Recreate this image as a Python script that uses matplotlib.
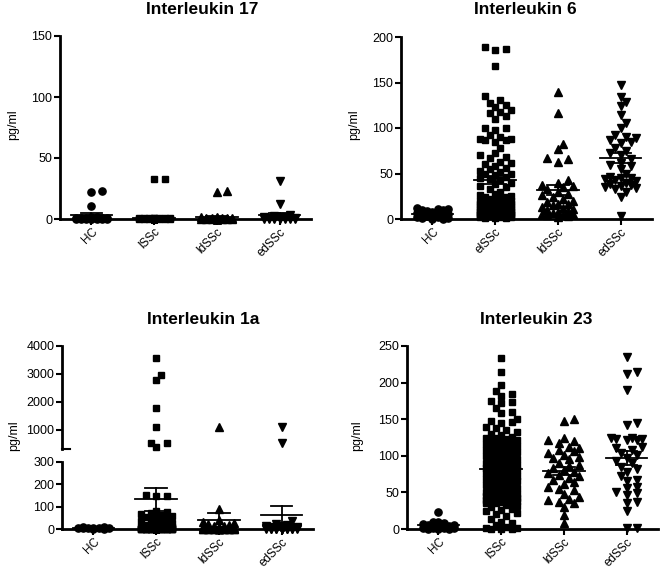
import numpy as np
import matplotlib.pyplot as plt

plt.rcParams['font.family'] = ['Liberation Sans', 'DejaVu Sans']

# ---- data (pg/ml) ----
groups_a = ['HC', 'lSSc', 'ldSSc', 'edSSc']
groups_b = ['HC', 'elSSc', 'ldSSc', 'edSSc']

il17_hc = [23, 22, 11, 2, 1.5, 1, 1, 1, 0.5, 0.5, 0.5, 0.5, 0, 0, 0, 0, 0, 0, 0, 0]
il17_lssc = [33, 33, 1, 1, 1, 0.5, 0.5, 0.5, 0.5, 0.5, 0, 0, 0, 0, 0, 0, 0, 0, 0, 0,
             0, 0, 0, 0, 0, 0, 0, 0, 0, 0, 0, 0, 0, 0, 0, 0, 0, 0, 0, 0,
             0, 0, 0, 0, 0, 0, 0, 0, 0, 0, 0, 0, 0, 0, 0, 0, 0, 0, 0, 0]
il17_ldssc = [23, 22, 2, 1.5, 1, 1, 1, 0.5, 0.5, 0.5, 0, 0, 0, 0, 0, 0, 0, 0, 0, 0,
              0, 0, 0, 0, 0, 0, 0, 0, 0, 0]
il17_edssc = [31, 12, 3, 2.5, 2, 2, 1.5, 1, 1, 1, 0.5, 0.5, 0.5, 0, 0, 0, 0, 0, 0, 0]

il6_hc = [12, 11, 11, 10, 10, 9, 8, 7, 6, 5, 4, 4, 3, 3, 2, 2, 1, 1, 0.5, 0.5]
il6_elssc = [189, 187, 186, 168, 135, 131, 128, 125, 123, 120, 118, 116, 113, 110,
             100, 100, 98, 92, 90, 88, 88, 87, 87, 85, 78, 72, 70, 68, 67, 63, 62, 60,
             58, 56, 55, 53, 52, 50, 50, 48, 46, 45, 44, 43, 40, 38, 36, 35, 33, 30,
             28, 26, 25, 24, 22, 21, 20, 19, 18, 17, 17, 16, 15, 15, 14, 13, 12, 12,
             11, 10, 10, 9, 9, 8, 8, 7, 7, 6, 6, 5, 5, 4, 4, 3, 3, 2,
             24, 22, 20, 18, 16, 15, 14, 13, 12, 11, 10, 9, 9, 8, 8, 7, 7, 6, 6, 5,
             5, 4, 4, 3, 3, 2, 2, 1, 1, 1]
il6_ldssc = [140, 116, 82, 77, 67, 66, 63, 43, 40, 37, 36, 35, 33, 30, 28, 26, 24, 22,
             20, 19, 17, 16, 15, 13, 12, 11, 10, 9, 8, 7, 6, 6, 5, 4, 3, 2]
il6_edssc = [147, 134, 129, 124, 114, 105, 100, 92, 90, 89, 87, 85, 83, 78, 75, 72, 70,
             66, 62, 59, 58, 55, 50, 46, 45, 45, 44, 43, 42, 40, 38, 37, 36, 35, 34, 33,
             30, 24, 3]

il1a_hc = [8, 7, 6, 5, 5, 4, 3, 3, 2, 2]
il1a_lssc = [3570, 2960, 2790, 1780, 1120, 540, 530, 400,
             152, 150, 146, 80, 76, 70, 66, 62, 58, 52, 48, 44, 40, 35, 30, 26, 22, 18,
             15, 12, 10, 10,
             8, 6, 5, 5, 4, 4, 3, 3, 3, 2, 2, 2, 2, 2, 1, 1, 1, 1, 1, 1,
             1, 1, 1, 1, 1, 1, 0.5, 0.5, 0.5, 0.5, 0.5, 0.5, 0.5, 0.5, 0, 0, 0, 0, 0, 0,
             0, 0, 0, 0, 0, 0, 0, 0, 0, 0, 0, 0, 0, 0, 0, 0, 0, 0, 0, 0,
             0, 0, 0, 0, 0, 0, 0, 0, 0, 0, 0, 0, 0, 0, 0, 0, 0, 0, 0, 0, 0, 0]
il1a_ldssc = [1100, 90, 40, 30, 25, 22, 20, 15, 12, 10, 8, 6, 5, 5, 4, 3, 3, 2, 2, 2,
              1, 1, 1, 1, 0, 0, 0, 0, 0, 0, 0, 0, 0, 0]
il1a_edssc = [1120, 550, 35, 22, 20, 15, 12, 10, 8, 6, 5, 5, 4, 3, 3, 2, 2, 1, 1, 1,
              0, 0, 0, 0, 0, 0, 0, 0, 0, 0]

il23_hc = [23, 10, 9, 8, 7, 6, 5, 4, 3, 2, 2, 1, 1, 0, 0, 0]
il23_lssc = [234, 215, 197, 188, 185, 182, 175, 174, 172, 165, 160, 158, 150, 148, 146,
             145, 140, 138, 135, 133, 130, 128, 126, 125, 124, 123, 122, 121, 120, 118,
             117, 116, 115, 114, 113, 112, 110, 108, 108, 106, 105, 104, 102, 101, 100,
             98, 97, 95, 94, 93, 92, 90, 89, 88, 87, 86, 85, 84, 83, 82, 81, 80, 79, 78,
             77, 76, 75, 73, 72, 71, 70, 69, 68, 67, 66, 65, 64, 62, 60, 58, 57, 56, 55,
             53, 51, 50, 48, 47, 46, 45, 44, 43, 42, 41, 40, 39, 38, 37, 36, 35, 33, 31,
             28, 25, 22, 18, 14, 10, 8, 5, 3, 2, 1, 0, 0, 0,
             60, 55, 50, 48, 45, 42, 40, 38, 36, 30, 26, 20]
il23_ldssc = [150, 147, 124, 122, 120, 117, 112, 110, 108, 106, 104, 101, 99, 97, 95, 90,
              88, 86, 83, 80, 78, 76, 74, 72, 70, 67, 64, 62, 58, 55, 53, 48, 44, 41, 40,
              37, 35, 30, 19, 8]
il23_edssc = [235, 214, 212, 190, 145, 142, 125, 124, 123, 123, 122, 121, 112, 110, 108,
              104, 101, 97, 93, 90, 85, 82, 78, 72, 67, 65, 58, 56, 50, 49, 46, 37, 35, 24,
              1, 1]

markers = ['o', 's', '^', 'v']
msizes = [5.2, 4.8, 5.2, 5.2]

W, H = 661, 568
fig = plt.figure(figsize=(W / 100, H / 100), dpi=100)


def swarm(ax, vals, spread=16.0, msz=6.5):
    # simple beeswarm: horizontal pixel offsets so markers don't pile up
    bb = ax.get_position()
    w_px = bb.width * W
    h_px = bb.height * H
    x0, x1 = ax.get_xlim()
    y0, y1 = ax.get_ylim()
    v = np.asarray(vals, float)
    ypx = (v - y0) / (y1 - y0) * h_px
    step = msz * 0.8
    cands = [0.0]
    k = 1
    while k * step <= spread:
        cands += [k * step, -k * step]
        k += 1
    xs = np.zeros(len(v))
    placed = []
    for i in np.argsort(v):
        best, bestd = 0.0, -1.0
        for c in cands:
            if placed:
                d = min(np.hypot(c - px, ypx[i] - py) for px, py in placed)
            else:
                d = np.inf
            if d >= msz:
                best = c
                break
            if d > bestd:
                best, bestd = c, d
        xs[i] = best
        placed.append((best, ypx[i]))
    return xs * (x1 - x0) / w_px


def style(ax, yticks, labels=None):
    ax.spines['top'].set_visible(False)
    ax.spines['right'].set_visible(False)
    ax.spines['left'].set_linewidth(2)
    ax.spines['bottom'].set_linewidth(2)
    ax.set_xlim(-0.5, 3.5)
    ax.set_yticks(yticks)
    ax.tick_params(width=1.5, length=4, labelsize=9, pad=1.5)
    if labels is None:
        ax.spines['bottom'].set_visible(False)
        ax.set_xticks([])
    else:
        ax.set_xticks(range(4))
        ax.set_xticklabels(labels, rotation=45, ha='right', va='top',
                           rotation_mode='anchor', fontsize=8.5)
        ax.tick_params(axis='x', pad=1)


def stats(ax, x, vals):
    v = np.asarray(vals, float)
    m = v.mean()
    se = v.std(ddof=1) / np.sqrt(len(v))
    kw = dict(color='black', lw=1.3, zorder=4, clip_on=False)
    ax.plot([x - 0.33, x + 0.33], [m, m], **kw)
    ax.plot([x, x], [m - se, m + se], **kw)
    ax.plot([x - 0.17, x + 0.17], [m + se, m + se], **kw)
    ax.plot([x - 0.17, x + 0.17], [m - se, m - se], **kw)


def points(ax, x, vals, i):
    if len(vals) == 0:
        return
    offs = swarm(ax, vals)
    ax.plot(x + offs, vals, ls='none', marker=markers[i], ms=msizes[i],
            color='black', clip_on=False, zorder=3)


def panel(rect, data, labels, ylim, yticks):
    ax = fig.add_axes(rect)
    style(ax, yticks, labels)
    ax.set_ylim(*ylim)
    for i, vals in enumerate(data):
        points(ax, i, vals, i)
        stats(ax, i, vals)
    return ax


# top row
panel([60 / W, 1 - 219 / H, 251 / W, 183 / H],
      [il17_hc, il17_lssc, il17_ldssc, il17_edssc], groups_a, (0, 150), [0, 50, 100, 150])
panel([401 / W, 1 - 219 / H, 251 / W, 182 / H],
      [il6_hc, il6_elssc, il6_ldssc, il6_edssc], groups_b, (0, 200), [0, 50, 100, 150, 200])

# Interleukin 1a with broken axis
brk = 300
ax_lo = fig.add_axes([62 / W, 1 - 529 / H, 251 / W, 67 / H])
ax_up = fig.add_axes([62 / W, 1 - 449 / H, 251 / W, 103 / H])
style(ax_lo, [0, 100, 200, 300], groups_a)
style(ax_up, [1000, 2000, 3000, 4000])
ax_lo.set_ylim(0, 300)
ax_up.set_ylim(320, 4000)
ax_up.patch.set_alpha(0)
ax_up.plot([0, 0.03], [0, 0], transform=ax_up.transAxes, color='black', lw=1.5, clip_on=False)
for i, vals in enumerate([il1a_hc, il1a_lssc, il1a_ldssc, il1a_edssc]):
    v = np.asarray(vals, float)
    points(ax_lo, i, v[v <= brk], i)
    points(ax_up, i, v[v > brk], i)
    stats(ax_lo, i, v)

panel([407 / W, 1 - 529 / H, 251 / W, 183 / H],
      [il23_hc, il23_lssc, il23_ldssc, il23_edssc], groups_a, (0, 250),
      [0, 50, 100, 150, 200, 250])

# titles and axis labels
tkw = dict(ha='center', va='center', fontsize=12.5, fontweight='bold')
fig.text(202 / W, 1 - 10 / H, 'Interleukin 17', **tkw)
fig.text(525 / W, 1 - 10 / H, 'Interleukin 6', **tkw)
fig.text(203 / W, 1 - 319.5 / H, 'Interleukin 1a', **tkw)
fig.text(536 / W, 1 - 319.5 / H, 'Interleukin 23', **tkw)

lkw = dict(ha='center', va='center', rotation=90, fontsize=9)
fig.text(13 / W, 1 - 125 / H, 'pg/ml', **lkw)
fig.text(354 / W, 1 - 125 / H, 'pg/ml', **lkw)
fig.text(14 / W, 1 - 436 / H, 'pg/ml', **lkw)
fig.text(357 / W, 1 - 436 / H, 'pg/ml', **lkw)

fig.savefig('out.png', dpi=100)
